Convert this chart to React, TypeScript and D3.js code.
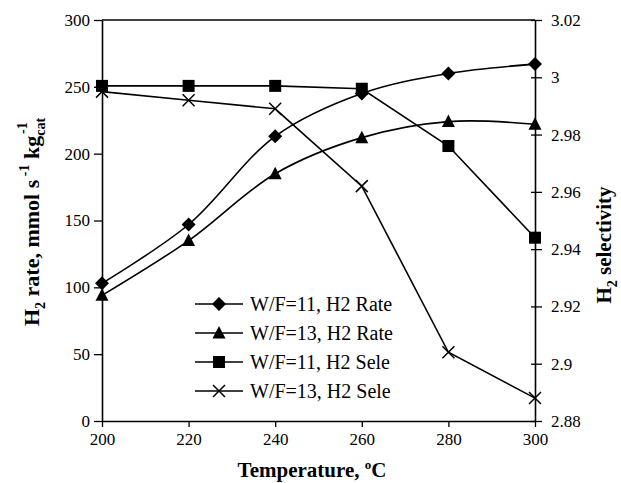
import React, { useRef, useEffect } from 'react';
import * as d3 from 'd3';

const temps = [200, 220, 240, 260, 280, 300];
const rate11 = [103, 147, 213, 245, 260, 267];
const rate13 = [94, 135, 185, 212, 224, 222];
const sele11 = [2.997, 2.997, 2.997, 2.996, 2.976, 2.944];
const sele13 = [2.995, 2.992, 2.989, 2.962, 2.904, 2.888];

const leftTicks = [0, 50, 100, 150, 200, 250, 300];
const rightTicks = [2.88, 2.9, 2.92, 2.94, 2.96, 2.98, 3, 3.02];
const legendLabels = ['W/F=11, H2 Rate', 'W/F=13, H2 Rate', 'W/F=11, H2 Sele', 'W/F=13, H2 Sele'];

export default function App() {
  const ref = useRef<SVGSVGElement>(null);

  useEffect(() => {
    const svg = d3.select(ref.current);
    svg.selectAll('*').remove();
    const width = 621, height = 483;
    const m = { left: 102, right: 535, top: 20, bottom: 421 };
    const font = "'Liberation Serif', Tinos, 'Times New Roman', Times, serif";

    const x = d3.scaleLinear().domain([200, 300]).range([m.left, m.right]);
    const yL = d3.scaleLinear().domain([0, 300]).range([m.bottom, m.top]);
    const yR = d3.scaleLinear().domain([2.88, 3.02]).range([m.bottom, m.top]);

    svg.attr('width', width).attr('height', height).style('font-family', font);
    svg.append('rect').attr('width', width).attr('height', height).attr('fill', '#fff');

    // top border
    svg.append('line').attr('x1', m.left).attr('x2', m.right).attr('y1', m.top).attr('y2', m.top)
      .attr('stroke', '#000').attr('stroke-width', 1.3);

    const styleAxis = (g: any) => {
      g.attr('font-family', null);
      g.select('.domain').attr('stroke', '#000').attr('stroke-width', 1.6);
      g.selectAll('.tick line').attr('stroke', '#000').attr('stroke-width', 1.3);
      g.selectAll('.tick text').style('font-family', font).attr('font-size', 17).attr('fill', '#000');
    };

    svg.append('g').attr('transform', `translate(0,${m.bottom})`)
      .call(d3.axisBottom(x).tickValues(temps).tickSize(6).tickSizeOuter(0).tickPadding(6).tickFormat(d3.format('d')))
      .call(styleAxis);

    svg.append('g').attr('transform', `translate(${m.left},0)`)
      .call(d3.axisLeft(yL).tickValues(leftTicks).tickSize(8).tickSizeOuter(0).tickPadding(4))
      .call(styleAxis);

    const gr = svg.append('g').attr('transform', `translate(${m.right},0)`)
      .call(d3.axisRight(yR).tickValues(rightTicks).tickSize(7).tickSizeOuter(0).tickPadding(9)
        .tickFormat((d: any) => String(+(+d).toFixed(2))))
      .call(styleAxis);
    gr.selectAll('.tick line').attr('x1', -4);

    const smooth = d3.line<number>().x((_, i) => x(temps[i])).curve(d3.curveCatmullRom.alpha(0.5));
    const straight = d3.line<number>().x((_, i) => x(temps[i]));

    const series = [
      { vals: rate11, y: yL, marker: 'diamond', smooth: true },
      { vals: rate13, y: yL, marker: 'triangle', smooth: true },
      { vals: sele11, y: yR, marker: 'square', smooth: false },
      { vals: sele13, y: yR, marker: 'cross', smooth: false },
    ];

    const drawMarker = (g: any, kind: string, cx: number, cy: number) => {
      if (kind === 'diamond') {
        g.append('path').attr('d', `M${cx},${cy - 7}L${cx + 7},${cy}L${cx},${cy + 7}L${cx - 7},${cy}Z`).attr('fill', '#000');
      } else if (kind === 'triangle') {
        g.append('path').attr('d', `M${cx},${cy - 7}L${cx + 6.5},${cy + 5.5}L${cx - 6.5},${cy + 5.5}Z`).attr('fill', '#000');
      } else if (kind === 'square') {
        g.append('rect').attr('x', cx - 6).attr('y', cy - 6).attr('width', 12).attr('height', 12).attr('fill', '#000');
      } else {
        g.append('path').attr('d', `M${cx - 6},${cy - 6}L${cx + 6},${cy + 6}M${cx - 6},${cy + 6}L${cx + 6},${cy - 6}`)
          .attr('stroke', '#000').attr('stroke-width', 1.5).attr('fill', 'none');
      }
    };

    series.forEach(s => {
      const gen = (s.smooth ? smooth : straight).y(v => s.y(v));
      svg.append('path').attr('d', gen(s.vals)).attr('fill', 'none').attr('stroke', '#000').attr('stroke-width', 1.6);
      const g = svg.append('g');
      s.vals.forEach((v, i) => drawMarker(g, s.marker, x(temps[i]), s.y(v)));
    });

    // legend
    const lg = svg.append('g');
    legendLabels.forEach((label, i) => {
      const cy = 304 + i * 29;
      lg.append('line').attr('x1', 195).attr('x2', 243).attr('y1', cy).attr('y2', cy)
        .attr('stroke', '#000').attr('stroke-width', 1.6);
      drawMarker(lg, series[i].marker, 219, cy);
      lg.append('text').attr('x', 250).attr('y', cy + 7).attr('font-size', 20)
        .attr('fill', '#000').text(label);
    });

    // x title
    const xt = svg.append('text').attr('x', 312).attr('y', 477).attr('text-anchor', 'middle')
      .attr('font-size', 21).attr('font-weight', 'bold');
    xt.append('tspan').text('Temperature, ');
    xt.append('tspan').attr('font-size', 13).attr('dy', -8).text('o');
    xt.append('tspan').attr('dy', 8).text('C');

    // left title
    const lt = svg.append('text').attr('transform', `translate(39,222) rotate(-90)`).attr('text-anchor', 'middle')
      .attr('font-size', 22).attr('font-weight', 'bold');
    lt.append('tspan').text('H');
    lt.append('tspan').attr('font-size', 14).attr('dy', 6).text('2');
    lt.append('tspan').attr('dy', -6).text(' rate, mmol s');
    lt.append('tspan').attr('font-size', 14).attr('dy', -10).text(' -1');
    lt.append('tspan').attr('dy', 10).text(' kg');
    lt.append('tspan').attr('font-size', 14).attr('dy', 6).text('cat');
    lt.append('tspan').attr('font-size', 14).attr('dx', -16).attr('dy', -18).text('-1');

    // right title
    const rt = svg.append('text').attr('transform', `translate(611,245) rotate(-90)`).attr('text-anchor', 'middle')
      .attr('font-size', 21).attr('font-weight', 'bold');
    rt.append('tspan').text('H');
    rt.append('tspan').attr('font-size', 14).attr('dy', 6).text('2');
    rt.append('tspan').attr('dy', -6).text(' selectivity');
  }, []);

  return <svg ref={ref} style={{ position: 'absolute', left: 0, top: 0 }} role="img" aria-label="H2 rate and selectivity vs temperature"></svg>;
}
